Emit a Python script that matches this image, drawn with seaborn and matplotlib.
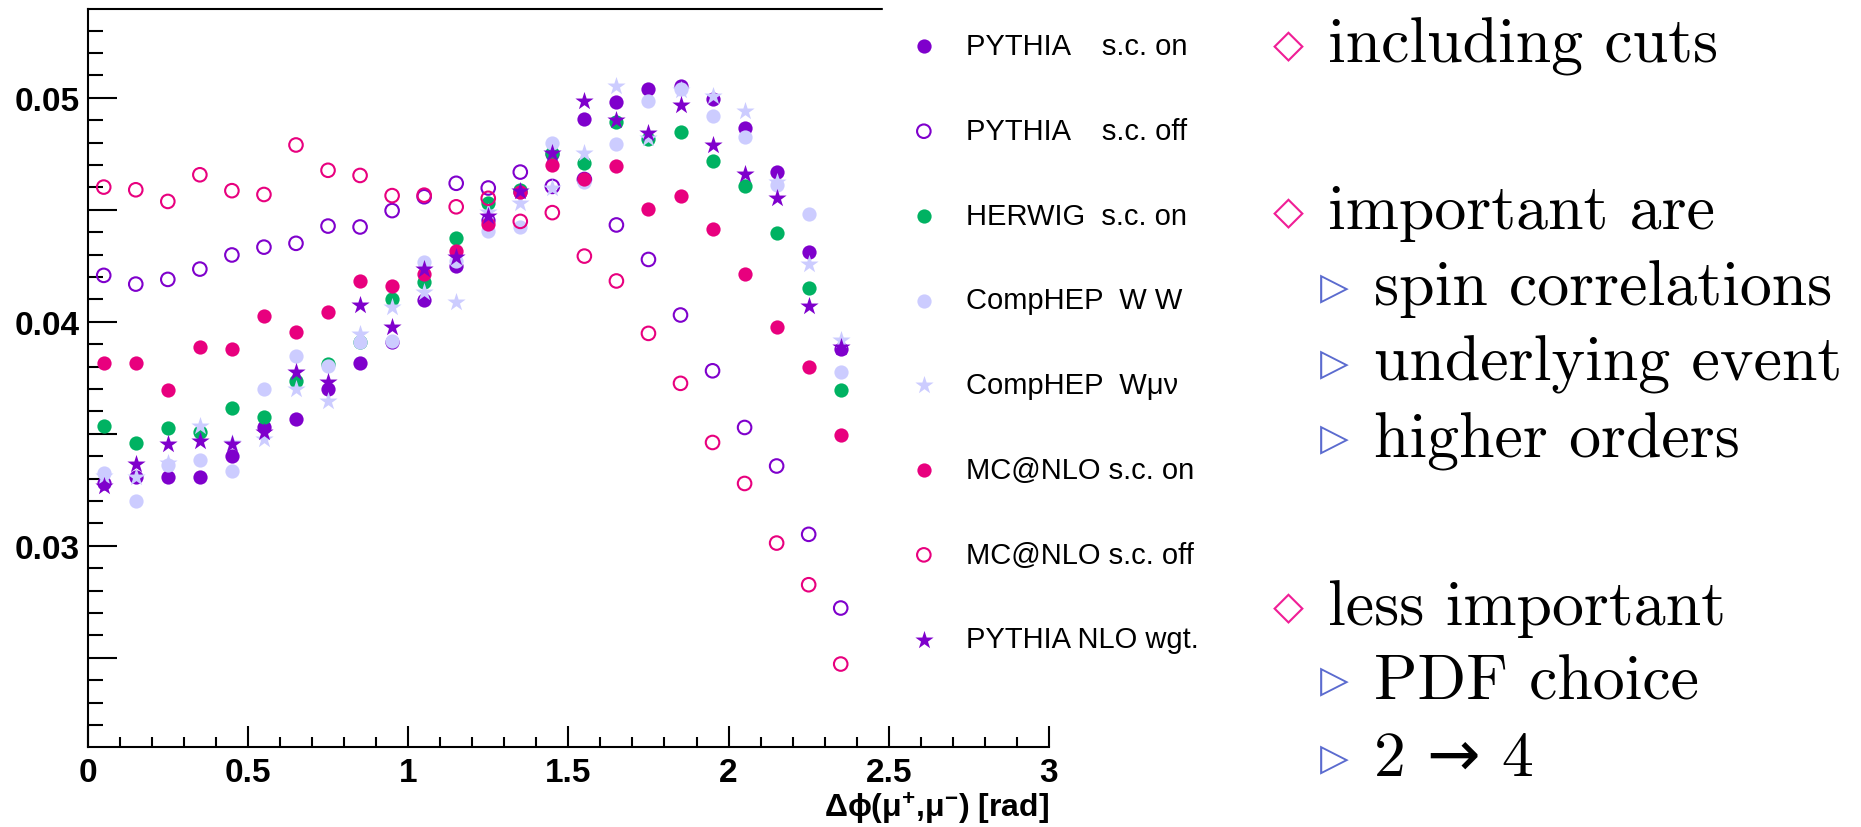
import matplotlib
matplotlib.use("Agg")
import matplotlib.pyplot as plt
import seaborn as sns
from matplotlib.ticker import MultipleLocator, FuncFormatter

# ---------------- data ----------------
dphi = [0.05, 0.15, 0.25, 0.35, 0.45, 0.55, 0.65, 0.75, 0.85, 0.95, 1.05, 1.15,
        1.25, 1.35, 1.45, 1.55, 1.65, 1.75, 1.85, 1.95, 2.05, 2.15, 2.25, 2.35]

pythia_on = [0.0328, 0.03305, 0.03308, 0.03308, 0.03402, 0.03528, 0.03568, 0.03699,
             0.03814, 0.0391, 0.04097, 0.04250, 0.04455, 0.0458, 0.0475, 0.04905,
             0.04982, 0.05039, 0.05051, 0.04994, 0.04863, 0.04670, 0.04312, 0.03878]
pythia_off = [0.04207, 0.04168, 0.04189, 0.04235, 0.04298, 0.04333, 0.04350, 0.04427,
              0.04423, 0.04496, 0.04558, 0.04618, 0.04597, 0.04668, 0.04604, 0.04635,
              0.04432, 0.04278, 0.04030, 0.03781, 0.03528, 0.03356, 0.03051, 0.02722]
herwig_on = [0.03536, 0.03457, 0.03525, 0.03510, 0.03615, 0.03573, 0.03734, 0.03810,
             0.03908, 0.04101, 0.04176, 0.04374, 0.04530, 0.04589, 0.04753, 0.04707,
             0.04893, 0.04815, 0.04848, 0.04717, 0.04604, 0.04394, 0.04152, 0.03696]
comphep_ww = [0.03324, 0.03201, 0.03360, 0.03382, 0.03335, 0.03699, 0.03848, 0.03804,
              0.03908, 0.03912, 0.04265, 0.0427, 0.04406, 0.04421, 0.04798, 0.04625,
              0.04793, 0.04984, 0.05039, 0.04917, 0.04823, 0.0461, 0.04481, 0.03774]
comphep_wmv = [0.0331, 0.03305, 0.03368, 0.03536, 0.0346, 0.03476, 0.03699, 0.03647,
               0.03945, 0.04064, 0.04131, 0.04089, 0.04488, 0.04530, 0.04597, 0.04753,
               0.05051, 0.0482, 0.05036, 0.05006, 0.04942, 0.04625, 0.04257, 0.03920]
mcnlo_on = [0.03815, 0.03818, 0.03696, 0.03888, 0.03878, 0.04027, 0.03952, 0.04045,
            0.04183, 0.04158, 0.04211, 0.04317, 0.04435, 0.04577, 0.04699, 0.04637,
            0.04696, 0.04503, 0.04560, 0.04414, 0.04213, 0.03976, 0.03796, 0.03494]
mcnlo_off = [0.04601, 0.04589, 0.04537, 0.04656, 0.04585, 0.04568, 0.04789, 0.04676,
             0.04653, 0.04563, 0.04565, 0.04513, 0.04551, 0.04448, 0.04487, 0.04293,
             0.04182, 0.03948, 0.03725, 0.03461, 0.03278, 0.03012, 0.02826, 0.02472]
pythia_nlo = [0.03268, 0.03365, 0.03454, 0.03469, 0.03454, 0.03506, 0.03774, 0.03732,
              0.04074, 0.03978, 0.04235, 0.04290, 0.04470, 0.04585, 0.04753, 0.04987,
              0.04902, 0.04841, 0.04967, 0.04789, 0.04659, 0.04551, 0.04071, 0.03885]

labels = ["PYTHIA    s.c. on", "PYTHIA    s.c. off", "HERWIG  s.c. on", "CompHEP  W W",
          "CompHEP  W\u03bc\u03bd", "MC@NLO s.c. on", "MC@NLO s.c. off", "PYTHIA NLO wgt."]

xtick_labels = ["0", "0.5", "1", "1.5", "2", "2.5", "3"]
xlabel = "\u0394\u03d5(\u03bc$^{\\mathbf{+}}$,\u03bc$^{\\mathbf{-}}$) [rad]"

notes = [
    ("d", "including cuts", 46, 63),
    ("d", "important are", 213, 229),
    ("t", "spin correlations", 289, 305),
    ("t", "underlying event", 365, 381),
    ("t", "higher orders", 440, 458),
    ("d", "less important", 608, 625),
    ("t", "PDF choice", 682, 700),
    ("t", "2 \u2192 4", 760, 776),
]

# ---------------- style ----------------
sns.set_theme(style="white")
plt.rcParams["font.family"] = ["Liberation Sans", "DejaVu Sans"]
plt.rcParams["mathtext.fontset"] = "custom"
plt.rcParams["mathtext.rm"] = "Liberation Sans"
plt.rcParams["mathtext.bf"] = "Liberation Sans:bold"
plt.rcParams["mathtext.it"] = "Liberation Sans:italic"

W, H = 1861, 828
fig = plt.figure(figsize=(W / 100, H / 100), dpi=100)
ax = fig.add_axes([87.7 / W, 1 - 747.7 / H, (1049 - 87.7) / W, (747.7 - 10) / H])

purple = "#7f00cc"
green = "#00b262"
lav = "#ccccff"
pink = "#e8007e"

series = [
    (pythia_on, "o", purple, True, 105),
    (pythia_off, "o", purple, False, 95),
    (herwig_on, "o", green, True, 105),
    (comphep_ww, "o", lav, True, 105),
    (comphep_wmv, "*", lav, True, 190),
    (mcnlo_on, "o", pink, True, 105),
    (mcnlo_off, "o", pink, False, 95),
    (pythia_nlo, "*", purple, True, 190),
]

for (vals, mk, col, filled, size), lab in zip(series, labels):
    if filled:
        sns.scatterplot(x=dphi, y=vals, marker=mk, color=col, s=size,
                        edgecolor=col, linewidth=0, ax=ax, label=lab, zorder=3)
    else:
        sns.scatterplot(x=dphi, y=vals, marker=mk, color=col, s=size,
                        facecolor="none", edgecolor=col, linewidth=1.5, ax=ax,
                        label=lab, zorder=3)

handles, labs = ax.get_legend_handles_labels()
ax.get_legend().remove()

ax.set_xlim(0, 3)
ax.set_ylim(0.02103, 0.05396)
ax.xaxis.set_major_locator(MultipleLocator(0.5))
ax.xaxis.set_minor_locator(MultipleLocator(0.1))
ax.yaxis.set_major_locator(MultipleLocator(0.005))
ax.yaxis.set_minor_locator(MultipleLocator(0.001))
ax.xaxis.set_major_formatter(FuncFormatter(
    lambda v, p: xtick_labels[int(round(v / 0.5))] if 0 <= int(round(v / 0.5)) < len(xtick_labels) else ""))
ax.yaxis.set_major_formatter(FuncFormatter(
    lambda v, p: ("%.2f" % v) if abs(v * 100 - round(v * 100)) < 1e-6 else ""))

for side in ["left", "bottom", "top"]:
    ax.spines[side].set_visible(True)
    ax.spines[side].set_color("black")
    ax.spines[side].set_linewidth(1.5)
ax.spines["right"].set_visible(False)

ax.tick_params(axis="both", which="both", direction="in", top=False, right=False,
               color="black", width=1.5, labelsize=24, labelcolor="black")
ax.tick_params(axis="y", which="major", length=20.9, pad=5.5, left=True)
ax.tick_params(axis="y", which="minor", length=10.8, left=True)
ax.tick_params(axis="x", which="major", length=15, pad=7.2, bottom=True)
ax.tick_params(axis="x", which="minor", length=7.2, bottom=True)
for t in ax.get_xticklabels() + ax.get_yticklabels():
    t.set_fontweight("bold")
ax.grid(False)

ax.set_xlabel(xlabel, fontsize=23, fontweight="bold", color="black")
ax.xaxis.set_label_coords(1.0, (747.7 - 818) / 737.7)
ax.xaxis.label.set_horizontalalignment("right")
ax.xaxis.label.set_verticalalignment("baseline")

leg = fig.legend(handles, labs, loc="upper left",
                 bbox_to_anchor=(883 / W, 1 - 6.9 / H),
                 frameon=True, facecolor="white", edgecolor="white", framealpha=1,
                 fancybox=False, fontsize=21, labelspacing=1.945, handlelength=1.0,
                 handletextpad=0.94, borderpad=0.9, scatterpoints=1, borderaxespad=0)
for t in leg.get_texts():
    t.set_color("black")

# ---------------- side notes ----------------
for kind, txt, ysym, ybase in notes:
    if kind == "d":
        fig.text(1288 / W, 1 - ysym / H, "\u25c7", fontsize=29, color="#f01e96",
                 ha="center", va="center", family="DejaVu Sans")
        fig.text(1328 / W, 1 - ybase / H, txt, fontsize=46, color="black",
                 ha="left", va="baseline", family=["cmr10", "DejaVu Sans"])
    else:
        fig.text(1334 / W, 1 - ysym / H, "\u25b7", fontsize=27, color="#5b6bcf",
                 ha="center", va="center", family="DejaVu Sans")
        fig.text(1374 / W, 1 - ybase / H, txt, fontsize=46, color="black",
                 ha="left", va="baseline", family=["cmr10", "DejaVu Sans"])

fig.savefig("out.png", dpi=100, facecolor="white")
